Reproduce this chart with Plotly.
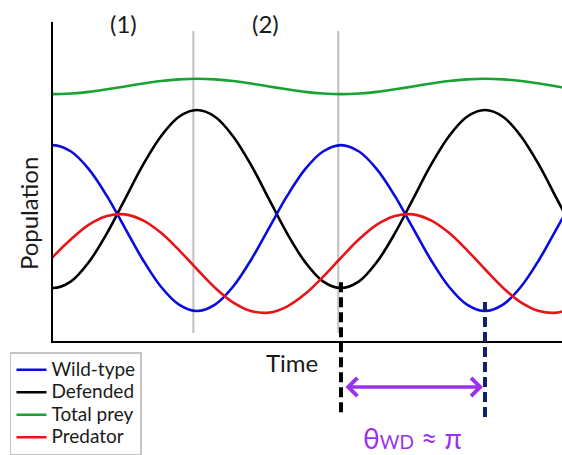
import plotly.graph_objects as go

# Sampled population trajectories (arbitrary units) over time
time = [-1, 0, 1, 2, 3, 4, 5, 6, 7, 8, 9, 10, 11, 12, 13, 14,
        15, 16, 17, 18, 19, 20, 21, 22, 23, 24, 25, 26, 27, 28, 29]

wild_type = [59.4, 61.4, 59.4, 53.8, 45.4, 35.4, 25.4, 17.0, 11.4, 9.4, 11.4,
             17.0, 25.4, 35.4, 45.4, 53.8, 59.4, 61.4, 59.4, 53.8, 45.4,
             35.4, 25.4, 17.0, 11.4, 9.4, 11.4, 17.0, 25.4, 35.4, 45.4]

defended = [18.7, 16.6, 18.7, 24.8, 33.8, 44.5, 55.2, 64.2, 70.3, 72.4, 70.3,
            64.2, 55.2, 44.5, 33.8, 24.8, 18.7, 16.6, 18.7, 24.8, 33.8,
            44.5, 55.2, 64.2, 70.3, 72.4, 70.3, 64.2, 55.2, 44.5, 33.8]

total_prey = [77.6, 77.4, 77.6, 78.1, 78.9, 79.8, 80.7, 81.5, 82.0, 82.2, 82.0,
              81.5, 80.7, 79.8, 78.9, 78.1, 77.6, 77.4, 77.6, 78.1, 78.9,
              79.8, 80.7, 81.5, 82.0, 82.2, 82.0, 81.5, 80.7, 79.8, 78.9]

predator = [20.1, 26.4, 31.9, 36.5, 39.2, 39.7, 37.8, 33.9, 28.5, 22.5, 16.7,
            12.1, 9.4, 8.9, 10.8, 14.7, 20.1, 26.1, 31.9, 36.5, 39.2,
            39.7, 37.8, 33.9, 28.5, 22.5, 16.7, 12.1, 9.4, 8.9, 10.8]

# Phase boundaries and labels
phase_bounds = [7.8, 15.85]
phase_labels = ["(1)", "(2)"]

# Times used for the phase-difference marker
defended_min_t = 16
wild_min_t = 24

X_MAX = 28.28
FONT = "Lato, 'Open Sans', sans-serif"
LEGEND_TEXT_PX = 19

series = [
    # name, values, colour, legend rank
    ("Defended", defended, "#000000", 2),
    ("Total prey", total_prey, "#17a332", 3),
    ("Wild-type", wild_type, "#0b0bdc", 1),
    ("Predator", predator, "#e8141a", 4),
]

fig = go.Figure()
for name, vals, color, rank in series:
    fig.add_trace(go.Scatter(
        x=time, y=vals, mode="lines",
        name=f"<span style='font-size:{LEGEND_TEXT_PX}px'>{name}</span>",
        line=dict(color=color, width=2.6, shape="spline", smoothing=1),
        legendrank=rank, hoverinfo="skip",
    ))

shapes = []
# grey phase separators
for b in phase_bounds:
    shapes.append(dict(type="line", xref="x", yref="paper", x0=b, x1=b,
                       y0=0.025, y1=0.972, layer="below",
                       line=dict(color="#c0c0c0", width=2)))
# dashed markers for the minima
shapes.append(dict(type="line", xref="x", yref="paper",
                   x0=defended_min_t, x1=defended_min_t, y0=-0.223, y1=0.200,
                   line=dict(color="#000000", width=4, dash="10px,5px")))
shapes.append(dict(type="line", xref="x", yref="paper",
                   x0=wild_min_t, x1=wild_min_t, y0=-0.238, y1=0.122,
                   line=dict(color="#10206e", width=4, dash="10px,5px")))

annotations = []
bounds = [0] + phase_bounds
for i, lab in enumerate(phase_labels):
    mid = (bounds[i] + bounds[i + 1]) / 2
    annotations.append(dict(x=mid, y=0.994, xref="x", yref="paper",
                            text=lab, showarrow=False,
                            font=dict(family=FONT, size=24, color="#1a1a1a"),
                            xanchor="center", yanchor="middle"))
annotations.append(dict(x=0.4696, y=-0.066, xref="paper", yref="paper",
                        text="Time", showarrow=False,
                        font=dict(family=FONT, size=24, color="#1a1a1a"),
                        xanchor="center", yanchor="middle"))
annotations.append(dict(x=-0.049, y=0.398, xref="paper", yref="paper",
                        text="Population", showarrow=False, textangle=-90,
                        font=dict(family=FONT, size=24, color="#1a1a1a"),
                        xanchor="center", yanchor="middle"))
# double-headed arrow for the phase difference
annotations.append(dict(x=wild_min_t, y=-0.144, xref="x", yref="paper",
                        ax=defended_min_t, ay=0, axref="x", ayref="pixel",
                        text="", showarrow=True, arrowside="end+start",
                        arrowhead=4, startarrowhead=4, arrowsize=1,
                        startarrowsize=1, arrowwidth=3.5, arrowcolor="#9b30f0",
                        standoff=2, startstandoff=3))
annotations.append(dict(x=(defended_min_t + wild_min_t) / 2, y=-0.304,
                        xref="x", yref="paper",
                        text="θ<span style='font-size:19px'>WD</span> ≈ π",
                        showarrow=False,
                        font=dict(family=FONT, size=28, color="#9b30f0"),
                        xanchor="center", yanchor="middle"))

fig.update_layout(
    width=562, height=455,
    margin=dict(l=53, r=0, t=22, b=114, autoexpand=False),
    paper_bgcolor="white", plot_bgcolor="rgba(0,0,0,0)",
    shapes=shapes, annotations=annotations,
    showlegend=True,
    legend=dict(x=-0.0845, y=-0.0345, xanchor="left", yanchor="top",
                bgcolor="white", bordercolor="#c4c4c4", borderwidth=1.5,
                font=dict(family=FONT, size=15, color="#1a1a1a"),
                traceorder="normal", tracegroupgap=0),
    xaxis=dict(range=[0, X_MAX], showline=True, linecolor="black",
               linewidth=1.5, showgrid=False, zeroline=False,
               showticklabels=False, ticks=""),
    yaxis=dict(range=[0, 100], showline=True, linecolor="black",
               linewidth=1.5, showgrid=False, zeroline=False,
               showticklabels=False, ticks=""),
)

fig.write_html("out.html", config={"displayModeBar": False})
